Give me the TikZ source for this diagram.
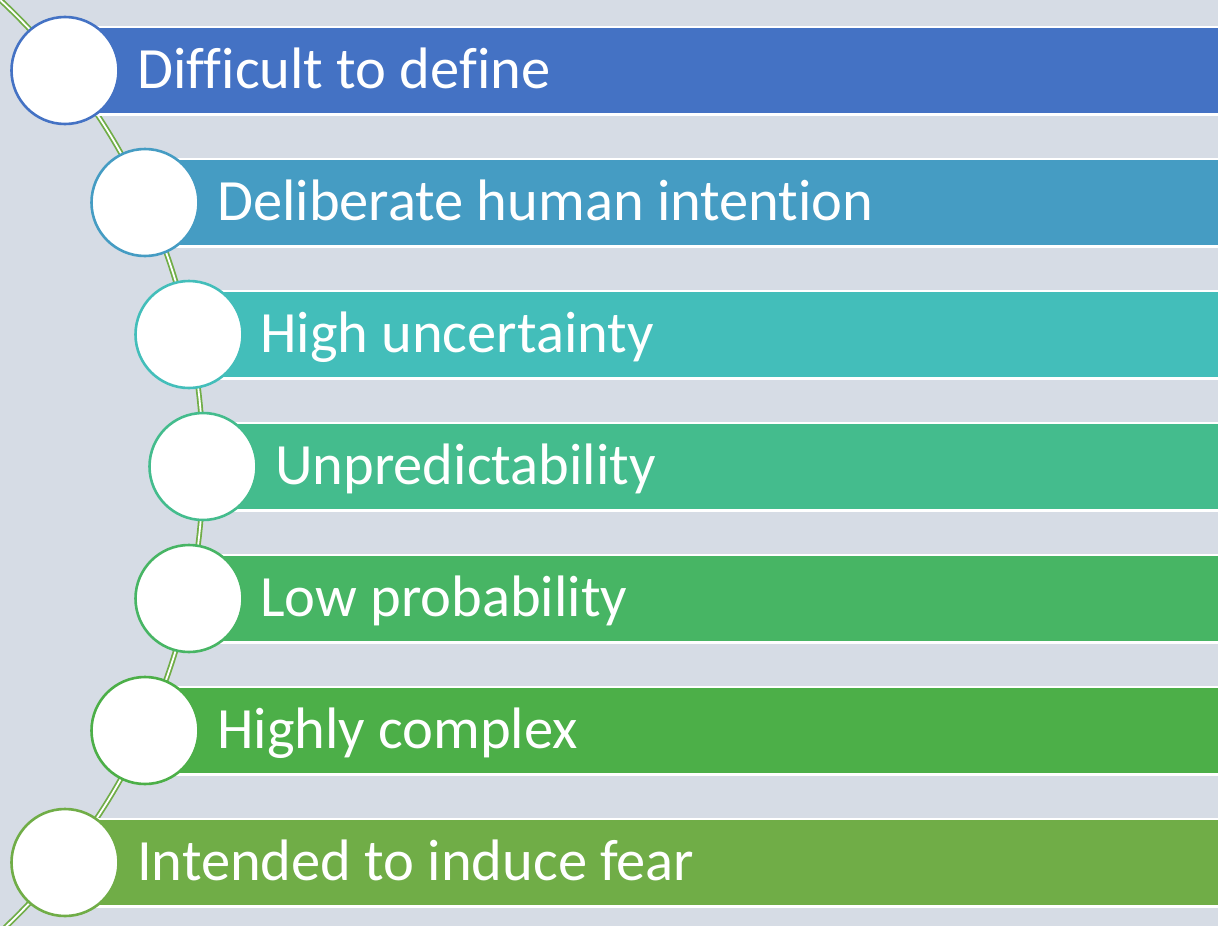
\documentclass[tikz,border=0pt]{standalone}
\usepackage{fontspec}
\setmainfont[Ligatures={NoCommon}]{Carlito}
\definecolor{bg}{HTML}{D6DCE5}
\definecolor{cA}{HTML}{4472C4}
\definecolor{cB}{HTML}{459CC3}
\definecolor{cC}{HTML}{43BEBA}
\definecolor{cD}{HTML}{44BC8D}
\definecolor{cE}{HTML}{47B564}
\definecolor{cF}{HTML}{4CAF48}
\definecolor{cG}{HTML}{70AD47}
\tikzset{
  bar/.style={fill=#1, draw=white, line width=2.2pt},
  dot/.style={circle, fill=white, draw=#1, line width=2.6pt, minimum size=107pt, inner sep=0pt},
  lbl/.style={anchor=base west, text=white, font=\fontsize{58.5}{60}\selectfont, inner sep=0pt},
  curve/.style={draw=cG, line width=1.8pt, double=white, double distance=1.8pt}
}
\begin{document}
\begin{tikzpicture}[x=1pt,y=-1pt]
\useasboundingbox (0,0) rectangle (1218,926);
\clip (0,0) rectangle (1218,926);
\fill[bg] (0,0) rectangle (1218,926);
\coordinate (arcc) at (-434,466);
\draw[curve] ([shift={(-47:637)}]arcc) arc[start angle=-47, end angle=47, radius=637];
% bars
\foreach \k/\cx/\col in {0/65/cA,1/145/cB,2/189/cC,3/203/cD,4/189/cE,5/145/cF,6/65/cG}{
  \path[bar=\col] (\cx,27+132*\k) rectangle (1230,114.5+132*\k);
}
% circles
\node[dot=cA] (c1) at (65,70.5) {};
\node[dot=cB] (c2) at (145,202.5) {};
\node[dot=cC] (c3) at (189,334.5) {};
\node[dot=cD] (c4) at (203,466.5) {};
\node[dot=cE] (c5) at (189,598.5) {};
\node[dot=cF] (c6) at (145,730.5) {};
\node[dot=cG] (c7) at (65,862.5) {};
% labels
\node[lbl] (t1) at (137,88) {Difficult to define};
\node[lbl] (t2) at (217,220) {Deliberate human intention};
\node[lbl] (t3) at (260,352) {High uncertainty};
\node[lbl] (t4) at (275,484) {Unpredictability};
\node[lbl] (t5) at (260,616) {Low probability};
\node[lbl] (t6) at (217,748) {Highly complex};
\node[lbl] (t7) at (137,880) {Intended to induce fear};
\end{tikzpicture}
\end{document}
